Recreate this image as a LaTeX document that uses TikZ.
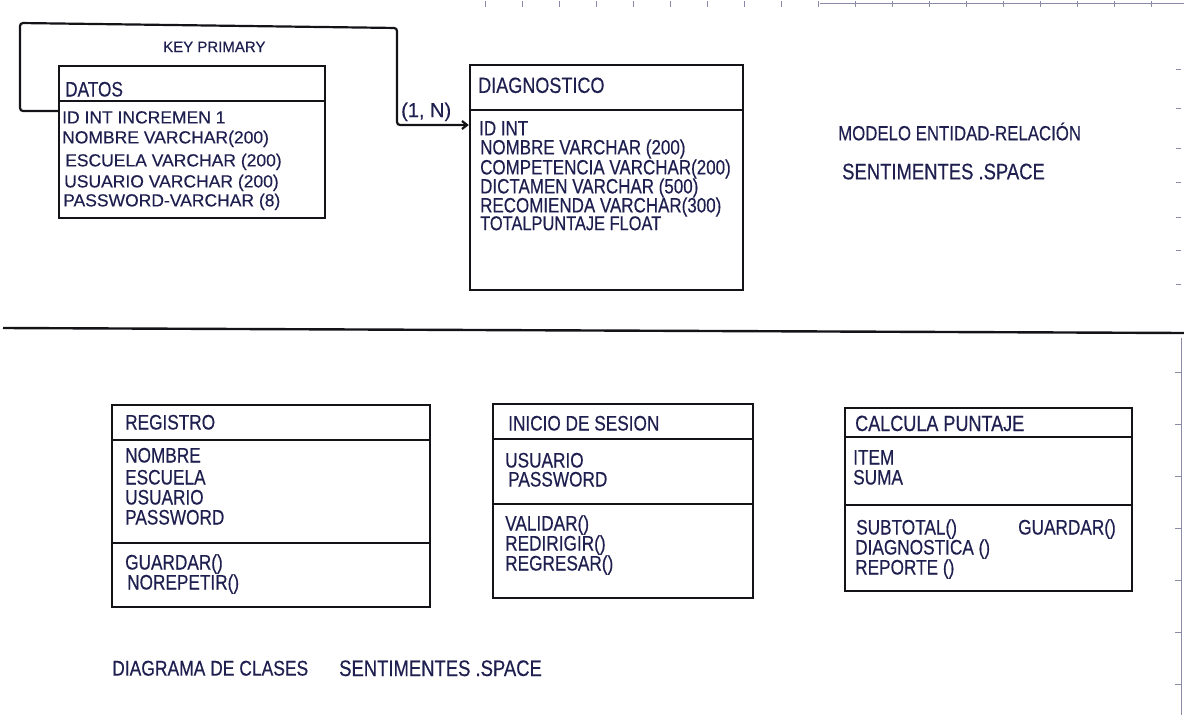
\documentclass[tikz,border=0pt]{standalone}
\usepackage{fontspec}
\setmainfont{Liberation Sans}[FakeBold=0.4]
\newfontfamily\hand{Liberation Sans}[FakeStretch=0.82, FakeBold=0.4]
\usetikzlibrary{arrows.meta}
\definecolor{ink}{HTML}{1E1F4F}
\definecolor{pen}{HTML}{141418}
\definecolor{edge}{HTML}{8A8AA8}

\begin{document}
\begin{tikzpicture}[x=1pt,y=-1pt,
  box/.style={draw=pen, line width=2.4pt, rectangle, inner sep=0pt},
  rule/.style={draw=pen, line width=2.4pt},
  txt/.style={anchor=base west, inner sep=0pt, text=ink, font=\fontsize{17.5}{20}\selectfont},
  hw/.style={txt, font=\hand\fontsize{#1}{#1}\selectfont},
  hw/.default=21,
  conn/.style={draw=pen, line width=2.2pt},
  paper/.style={draw=edge, line width=0.8pt}]
\useasboundingbox (0,0) rectangle (1184,715);

% notebook edge marks
\draw[paper] (820,3) -- (1184,3);
\foreach \x in {485,522,...,1170} \draw[paper] (\x,1) -- (\x,7);
\foreach \y in {69,108,148,182,217,250,284} \draw[paper] (1176,\y) -- (1181,\y);
\draw[paper] (1181,338) -- (1181,715);
\foreach \y in {372,424,...,710} \draw[paper] (1175,\y) -- (1181,\y);

% ---------------- entity-relationship model ----------------
\node[box, minimum width=266pt, minimum height=152pt] (datos) at (192,142) {};
\draw[rule] (datos.west |- 0,101) -- (datos.east |- 0,101);
\node[hw] (datosT) at (65,96.5) {DATOS};
\node[txt] (datos1) at (62,123.4) {ID INT INCREMEN 1};
\node[txt] (datos2) at (62,143.4) {NOMBRE VARCHAR(200)};
\node[txt] (datos3) at (65,166.4) {ESCUELA VARCHAR (200)};
\node[txt] (datos4) at (64,187.4) {USUARIO VARCHAR (200)};
\node[txt] (datos5) at (63,206.4) {PASSWORD-VARCHAR (8)};

\node[box, minimum width=273pt, minimum height=225pt] (diag) at (606.5,177.5) {};
\draw[rule] (diag.west |- 0,110) -- (diag.east |- 0,110);
\node[hw=22] (diagT) at (478,92.9) {DIAGNOSTICO};
\node[hw=20.7] (diag1) at (479,135.4) {ID INT};
\node[hw=20.7] (diag2) at (480,154.4) {NOMBRE VARCHAR (200)};
\node[hw=20.7] (diag3) at (480,174.4) {COMPETENCIA VARCHAR(200)};
\node[hw=20.7] (diag4) at (480,193.4) {DICTAMEN VARCHAR (500)};
\node[hw=20.7] (diag5) at (480,212.4) {RECOMIENDA VARCHAR(300)};
\node[hw=20] (diag6) at (480,230.2) {TOTALPUNTAJE FLOAT};

% primary key relationship
\draw[conn, rounded corners=3pt, -{Straight Barb[length=5pt,width=8pt]}]
  ([yshift=31pt]datos.west) -- (20,111) -- (20,23) -- (397,28) -- (397,125)
  -- ([yshift=52.5pt]diag.west);
\node[txt, font=\fontsize{15}{18}\selectfont] (keylbl) at (163,52) {KEY PRIMARY};
\node[txt, font=\fontsize{20}{22}\selectfont] (card) at (401,117) {(1, N)};

\node[hw=20.5] (model1) at (838,140.3) {MODELO ENTIDAD-RELACIÓN};
\node[hw=22.5] (model2) at (842,179.3) {SENTIMENTES .SPACE};

% section separator
\draw[pen, line width=2.4pt] (3,328) -- (1184,333);

% ---------------- class diagram ----------------
\node[box, minimum width=318pt, minimum height=202pt] (reg) at (271,506) {};
\draw[rule] (reg.west |- 0,440) -- (reg.east |- 0,440);
\draw[rule] (reg.west |- 0,543) -- (reg.east |- 0,543);
\node[hw] (regT) at (125,429.5) {REGISTRO};
\node[hw] (reg1) at (125,462.5) {NOMBRE};
\node[hw] (reg2) at (125,484.5) {ESCUELA};
\node[hw] (reg3) at (125,504.5) {USUARIO};
\node[hw] (reg4) at (125,524.5) {PASSWORD};
\node[hw] (reg5) at (125,569.5) {GUARDAR()};
\node[hw] (reg6) at (127,589.5) {NOREPETIR()};

\node[box, minimum width=260pt, minimum height=194pt] (ini) at (623,501) {};
\draw[rule] (ini.west |- 0,439) -- (ini.east |- 0,439);
\draw[rule] (ini.west |- 0,504) -- (ini.east |- 0,504);
\node[hw] (iniT) at (508,430.5) {INICIO DE SESION};
\node[hw] (ini1) at (505,467.5) {USUARIO};
\node[hw] (ini2) at (508,486.5) {PASSWORD};
\node[hw] (ini3) at (505,530.5) {VALIDAR()};
\node[hw] (ini4) at (505,550.5) {REDIRIGIR()};
\node[hw] (ini5) at (505,570.5) {REGRESAR()};

\node[box, minimum width=287pt, minimum height=183pt] (calc) at (988.5,499.5) {};
\draw[rule] (calc.west |- 0,437) -- (calc.east |- 0,437);
\draw[rule] (calc.west |- 0,505) -- (calc.east |- 0,505);
\node[hw=22] (calcT) at (855,431) {CALCULA PUNTAJE};
\node[hw] (calc1) at (853,464.5) {ITEM};
\node[hw] (calc2) at (853,484.5) {SUMA};
\node[hw] (calc3) at (856,534.5) {SUBTOTAL()};
\node[hw] (calc4) at (1018,534.5) {GUARDAR()};
\node[hw] (calc5) at (855,554.5) {DIAGNOSTICA ()};
\node[hw] (calc6) at (855,574.5) {REPORTE ()};

\node[hw=21.3] (cap1) at (112,675.6) {DIAGRAMA DE CLASES};
\node[hw=22.5] (cap2) at (339,676) {SENTIMENTES .SPACE};
\end{tikzpicture}
\end{document}
